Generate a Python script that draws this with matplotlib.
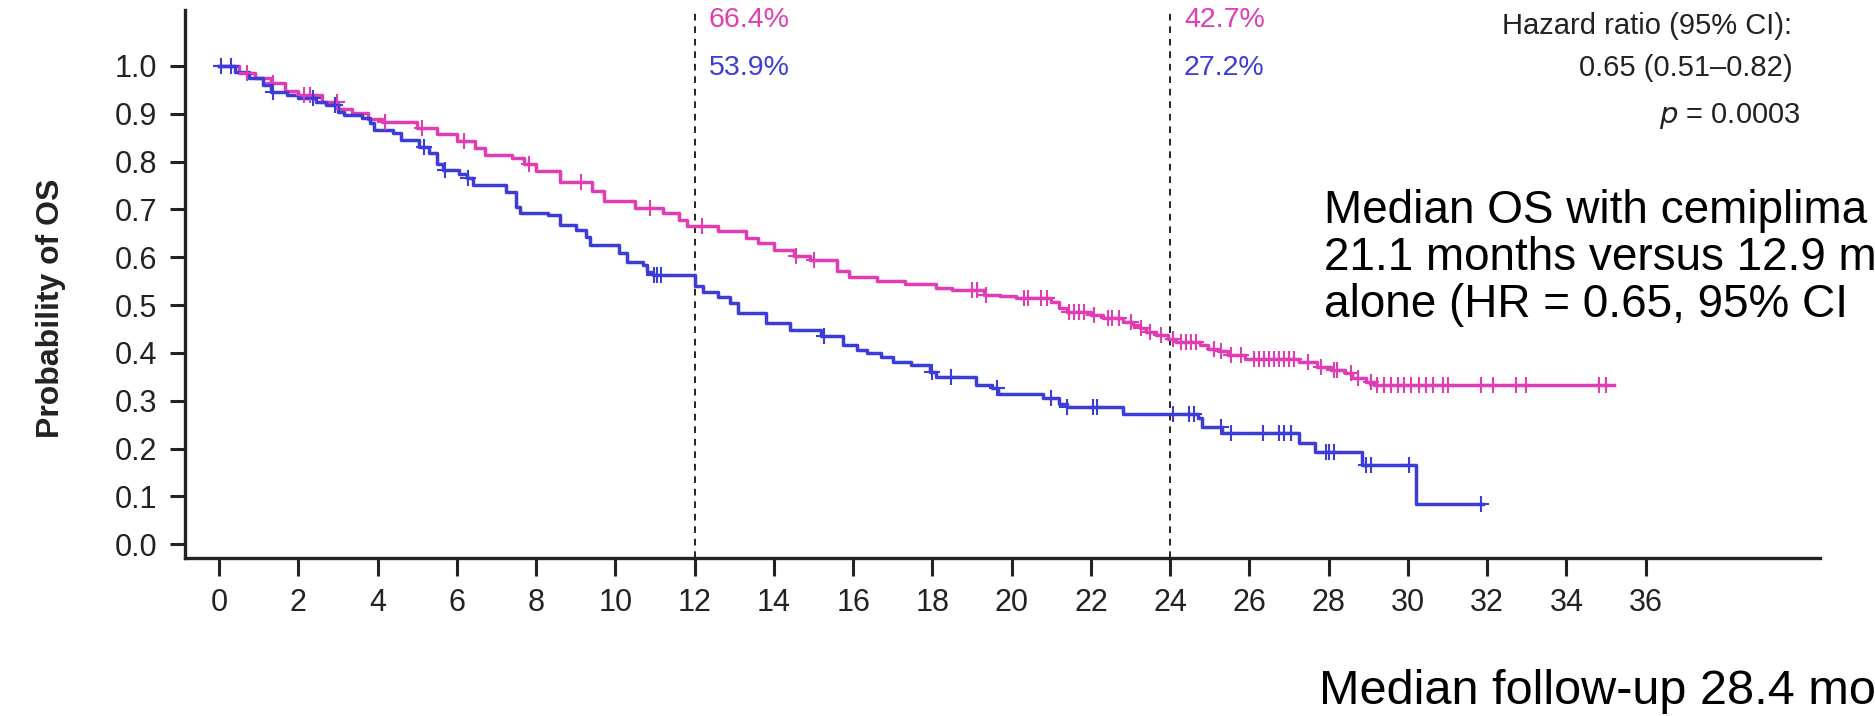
import numpy as np
import matplotlib.pyplot as plt

plt.rcParams['font.family'] = ['Liberation Sans', 'DejaVu Sans']

# KM step data: (month, survival after drop)
pink_t = [0, 0.5, 0.9, 1.3, 1.65, 2.0, 2.6, 3.0, 3.35, 3.75, 4.1, 5.0, 5.5, 6.0, 6.45,
          6.7, 7.4, 7.7, 8.0, 8.6, 9.4, 9.7, 10.5, 11.2, 11.6, 11.8, 12.6, 13.3, 13.6,
          14.0, 14.5, 14.9, 15.6, 15.9, 16.6, 17.3, 18.1, 18.5, 19.3, 19.7, 20.1, 21.0,
          21.2, 21.4, 22.0, 22.3, 22.8, 23.05, 23.25, 23.4, 23.65, 23.95, 24.15, 24.75,
          24.95, 25.2, 25.45, 25.9, 27.25, 27.7, 28.05, 28.4, 28.6, 28.95, 29.15]
pink_s = [1.0, 0.985, 0.974, 0.964, 0.948, 0.939, 0.925, 0.910, 0.901, 0.889, 0.883,
          0.870, 0.857, 0.843, 0.829, 0.814, 0.807, 0.796, 0.780, 0.757, 0.738, 0.717,
          0.703, 0.692, 0.678, 0.666, 0.654, 0.641, 0.630, 0.616, 0.602, 0.594, 0.572,
          0.559, 0.550, 0.543, 0.536, 0.531, 0.522, 0.518, 0.514, 0.507, 0.493, 0.486,
          0.480, 0.473, 0.465, 0.458, 0.451, 0.444, 0.437, 0.430, 0.423, 0.416, 0.409,
          0.404, 0.395, 0.388, 0.380, 0.371, 0.364, 0.357, 0.347, 0.340, 0.333]
pink_end = 35.2
pink_cens = [0.7, 1.37, 2.13, 2.3, 2.97, 4.19, 5.12, 6.17, 7.81, 9.12, 10.88, 12.19,
             14.55, 15.0, 19.0, 19.13, 19.34, 20.31, 20.4, 20.73, 20.9, 21.45, 21.57,
             21.7, 21.83, 22.08, 22.42, 22.54, 22.71, 23.0, 23.26, 23.5, 23.76, 24.06,
             24.27, 24.39, 24.52, 24.65, 25.11, 25.28, 25.53, 25.78, 26.12, 26.24, 26.37,
             26.5, 26.62, 26.75, 26.88, 27.0, 27.13, 27.47, 27.8, 28.14, 28.22, 28.56,
             28.73, 29.07, 29.23, 29.4, 29.57, 29.74, 29.91, 30.08, 30.29, 30.45, 30.62,
             30.88, 31.0, 31.84, 32.14, 32.73, 32.98, 34.83, 35.0]

blue_t = [0, 0.4, 0.75, 1.1, 1.3, 1.7, 2.0, 2.45, 2.7, 3.0, 3.15, 3.6, 3.8, 3.9, 4.4,
          4.6, 5.05, 5.3, 5.5, 5.65, 6.05, 6.25, 6.4, 7.25, 7.5, 7.6, 8.3, 8.6, 9.0, 9.25,
          9.35, 10.1, 10.3, 10.7, 10.8, 10.95, 12.0, 12.2, 12.6, 12.9, 13.1, 13.8, 14.4,
          15.2, 15.75, 16.1, 16.35, 16.7, 17.0, 17.45, 17.95, 18.1, 19.1, 19.5, 19.65,
          20.8, 21.2, 21.4, 22.8, 24.7, 24.8, 25.3, 27.25, 27.65, 28.85, 30.2]
blue_s = [1.0, 0.988, 0.975, 0.961, 0.946, 0.939, 0.932, 0.925, 0.918, 0.904, 0.897,
          0.892, 0.880, 0.866, 0.859, 0.845, 0.831, 0.817, 0.796, 0.782, 0.775, 0.765,
          0.751, 0.737, 0.706, 0.693, 0.688, 0.667, 0.657, 0.643, 0.626, 0.608, 0.591,
          0.584, 0.570, 0.563, 0.539, 0.528, 0.517, 0.504, 0.483, 0.462, 0.448, 0.436,
          0.416, 0.406, 0.399, 0.392, 0.381, 0.374, 0.360, 0.350, 0.333, 0.326, 0.315,
          0.305, 0.294, 0.287, 0.273, 0.263, 0.245, 0.232, 0.211, 0.193, 0.165, 0.084]
blue_end = 31.9
blue_cens = [0.05, 0.3, 1.37, 2.38, 2.93, 5.16, 5.7, 6.28, 10.97, 11.05, 11.14, 15.26,
             18.0, 18.46, 19.64, 21.0, 21.4, 22.04, 22.16, 24.06, 24.48, 24.6, 25.28,
             25.53, 26.33, 26.75, 26.88, 27.05, 27.93, 28.01, 28.14, 28.94, 29.07,
             30.03, 31.84]

# text shown at the right (cut by the slide edge in the original)
note_lines = ["Median OS with cemiplima", "21.1 months versus 12.9 m",
              "alone (HR = 0.65, 95% CI"]
followup = "Median follow-up 28.4 mo"

pink = "#e03cb4"
blue = "#3c3cd8"
dark = "#222222"

fig = plt.figure(figsize=(18.75, 7.16), dpi=100)
ax = fig.add_axes([0.0987, 0.22, 0.872, 0.766])


def km(ax, t, s, end, cens, col):
    tt = list(t) + [end]
    ss = list(s) + [s[-1]]
    ax.plot(tt, ss, drawstyle="steps-post", color=col, lw=2.5, zorder=3)
    idx = np.searchsorted(t, cens, side="right") - 1
    ax.plot(cens, np.array(s)[idx], ls="none", marker="+", ms=11, mew=1.5,
            color=col, zorder=4)


km(ax, pink_t, pink_s, pink_end, pink_cens, pink)
km(ax, blue_t, blue_s, blue_end, blue_cens, blue)

for xv in [12, 24]:
    ax.axvline(xv, color="k", lw=1.2, ls=(0, (4, 3.5)), zorder=2)

ax.set_xlim(-0.86, 40.4)
ax.set_ylim(-0.03, 1.117)
ax.set_xticks(np.arange(0, 37, 2))
ax.set_yticks(np.arange(0, 1.01, 0.1))
ax.set_yticklabels([f"{v:.1f}" for v in np.arange(0, 1.01, 0.1)])
for sp in ["top", "right"]:
    ax.spines[sp].set_visible(False)
for sp in ["left", "bottom"]:
    ax.spines[sp].set_linewidth(2.4)
    ax.spines[sp].set_color(dark)
ax.tick_params(axis="x", length=13, width=2.2, pad=8, labelsize=22, colors=dark)
ax.tick_params(axis="y", length=11, width=2.2, pad=9, labelsize=22, colors=dark)
ax.set_ylabel("Probability of OS", fontsize=23, fontweight="bold", color=dark)
ax.yaxis.set_label_coords(-0.073, 0.456)

# landmark rates
ax.text(12.35, 1.096, "66.4%", color=pink, fontsize=20.5, va="center", ha="left")
ax.text(12.35, 0.996, "53.9%", color=blue, fontsize=20.5, va="center", ha="left")
ax.text(24.35, 1.096, "42.7%", color=pink, fontsize=20.5, va="center", ha="left")
ax.text(24.35, 0.996, "27.2%", color=blue, fontsize=20.5, va="center", ha="left")

ax.text(39.7, 1.084, "Hazard ratio (95% CI):", fontsize=21, ha="right", va="center",
        color=dark)
ax.text(39.7, 0.996, "0.65 (0.51\u20130.82)", fontsize=21, ha="right", va="center",
        color=dark)
ax.text(39.9, 0.895, "$\\it{p}$ = 0.0003", fontsize=21, ha="right", va="center",
        color=dark)

for i, line in enumerate(note_lines):
    fig.text(0.706, 1 - (211 + 47 * i) / 716, line, fontsize=33, va="center")
fig.text(0.7035, 1 - 692 / 716, followup, fontsize=35, va="center")

fig.savefig("out.png", dpi=100)
